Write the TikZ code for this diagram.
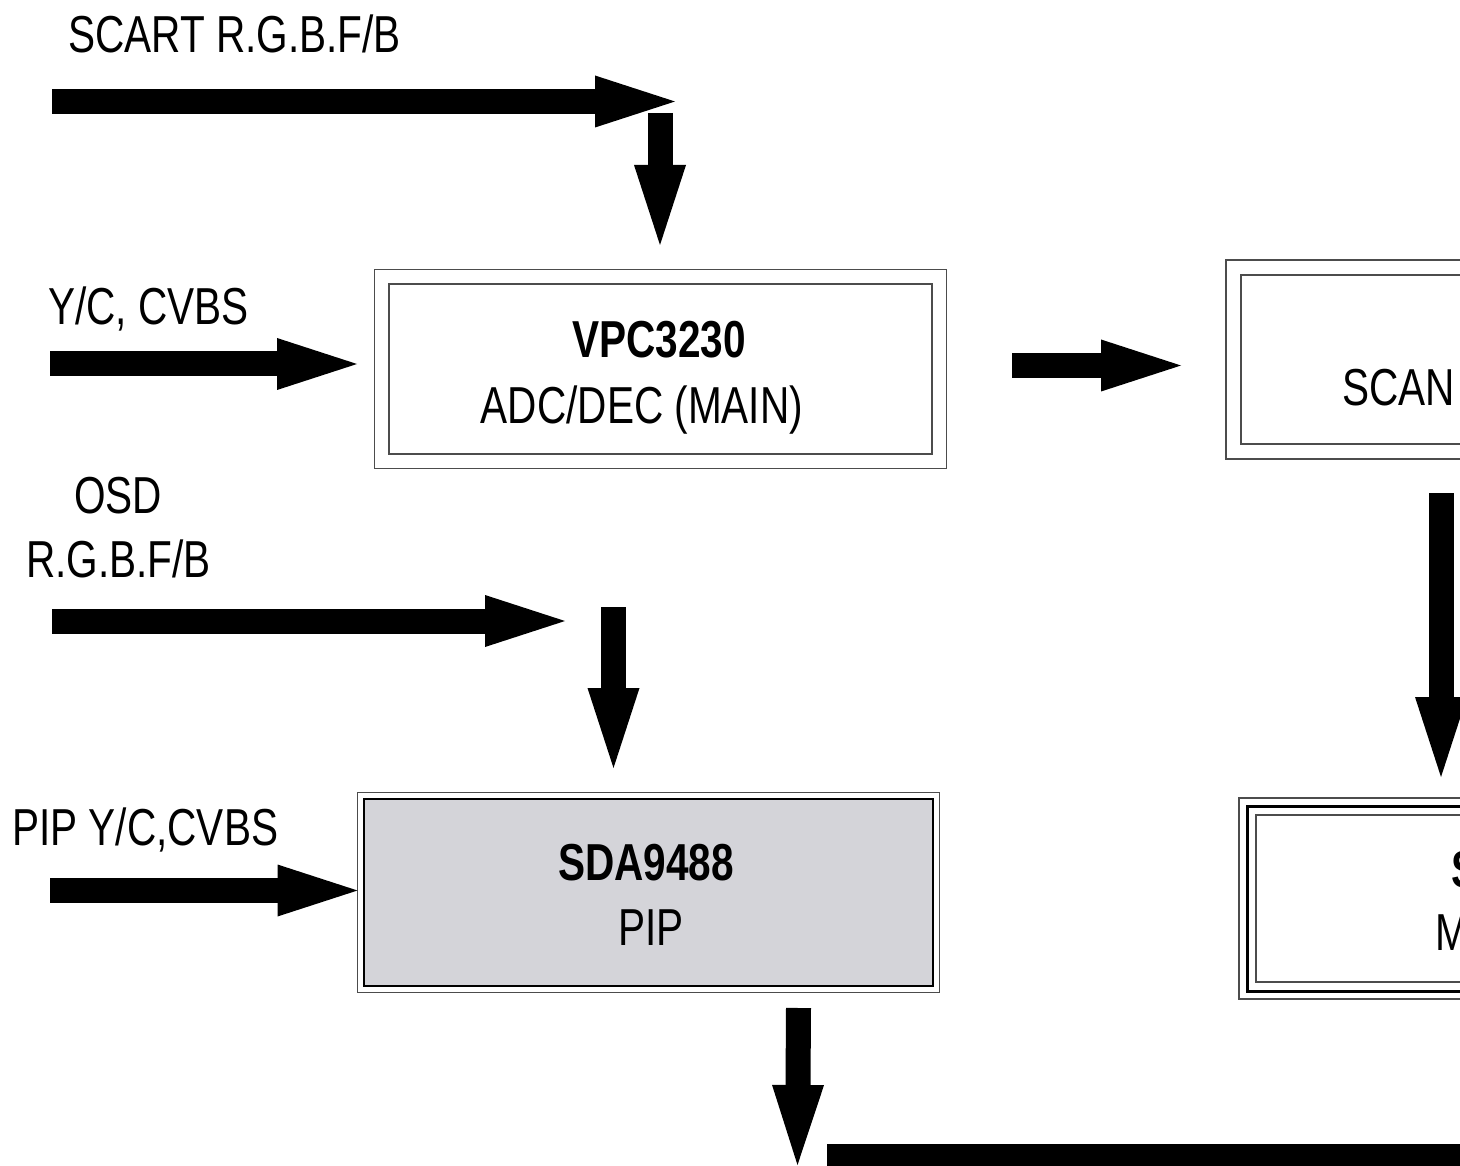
\documentclass[tikz,border=0pt]{standalone}
\usepackage{fontspec}
\setmainfont{Liberation Sans}[FakeStretch=0.78]
\usetikzlibrary{arrows.meta, fit, positioning}
\definecolor{pipgray}{RGB}{212,212,217}

\tikzset{
  sig/.style={line width=25pt, -{Triangle[length=80pt, width=52pt, line width=0pt]}},
  bus/.style={line width=25pt},
  txt/.style={inner sep=0pt, font=\fontsize{52}{62}\selectfont},
  chip/.style={txt, font=\fontsize{52}{62}\selectfont\bfseries},
  frame/.style={draw=black!70, line width=1.2pt, inner sep=0pt, outer sep=0pt},
}

\begin{document}
\begin{tikzpicture}[x=1pt, y=-1pt]
\clip (0,0) rectangle (1460,1166);

% boxes
\node[frame, minimum width=543pt, minimum height=170pt] (vpc) at (660.5,369) {};
\node[frame, fit=(vpc), inner sep=14.5pt] (vpc-out) {};

\node[frame, minimum width=543pt, minimum height=169pt] (scan) at (1512.5,359.5) {};
\node[frame, fit=(scan), inner sep=15pt] (scan-out) {};

\node[frame, minimum width=543pt, minimum height=167pt] (sdb) at (1527.5,898.5) {};
\node[frame, draw=black, line width=3pt, fit=(sdb), inner sep=9pt] (sdb-mid) {};
\node[frame, fit=(sdb-mid), inner sep=8pt] (sdb-out) {};

\node[frame, draw=black, line width=2pt, fill=pipgray, minimum width=569pt, minimum height=187pt] (pip) at (648.5,892.5) {};
\node[frame, fit=(pip), inner sep=6.5pt] (pip-out) {};

% texts
\node[chip, anchor=base] (vpc-name) at (659,358) {VPC3230};
\node[txt, anchor=base] (vpc-func) at (642,424) {ADC/DEC (MAIN)};
\node[chip, anchor=base] (pip-name) at (646,880) {SDA9488};
\node[txt, anchor=base] (pip-func) at (651,945) {PIP};
\node[txt, anchor=base west] (scan-func) at (1342,406) {SCAN};
\node[chip, anchor=base west] (sdb-name) at (1451,887) {S};
\node[txt, anchor=base west] (sdb-func) at (1435,950) {M};

\node[txt, anchor=base west] (scart-lbl) at (68,53) {SCART R.G.B.F/B};
\node[txt, anchor=base west] (yc-lbl) at (48,325) {Y/C, CVBS};
\node[txt, anchor=base] (osd-lbl) at (118,513) {OSD};
\node[txt, anchor=base] (osd-lbl2) at (118.5,577) {R.G.B.F/B};
\node[txt, anchor=base west] (pipin-lbl) at (12,845) {PIP Y/C,CVBS};

% signal arrows
\coordinate (scart-in) at (52,101.5);
\coordinate (scart-end) at (675,101.5);
\coordinate (scart-drop) at (660,113);
\coordinate (scart-tip) at (660,245);
\draw[sig] (scart-in) -- (scart-end);
\draw[sig] (scart-drop) -- (scart-tip);

\coordinate (yc-in) at (50,364);
\draw[sig] (yc-in) -- (357,364);

\coordinate (vpc-o) at (1012,365.5);
\coordinate (scan-i) at (1181,365.5);
\draw[sig] (vpc-o) -- (scan-i);

\coordinate (osd-in) at (52,621);
\coordinate (osd-end) at (565,621);
\coordinate (osd-drop) at (613.5,607);
\coordinate (osd-tip) at (613.5,768);
\draw[sig] (osd-in) -- (osd-end);
\draw[sig] (osd-drop) -- (osd-tip);

\coordinate (pipin) at (50,890.5);
\draw[sig] (pipin) -- (pip-out.west |- pipin);

\coordinate (scan-o) at (1441,493);
\coordinate (scan-tip) at (1441,777);
\draw[sig] (scan-o) -- (scan-tip);

\coordinate (pip-o) at (798.5,1008);
\coordinate (pip-tip) at (797.5,1165);
\draw[sig] (pip-o) -- (pip-tip);

\coordinate (bus-l) at (827,1156.5);
\coordinate (bus-r) at (1500,1156.5);
\draw[bus] (bus-l) -- (bus-r);

\end{tikzpicture}
\end{document}
